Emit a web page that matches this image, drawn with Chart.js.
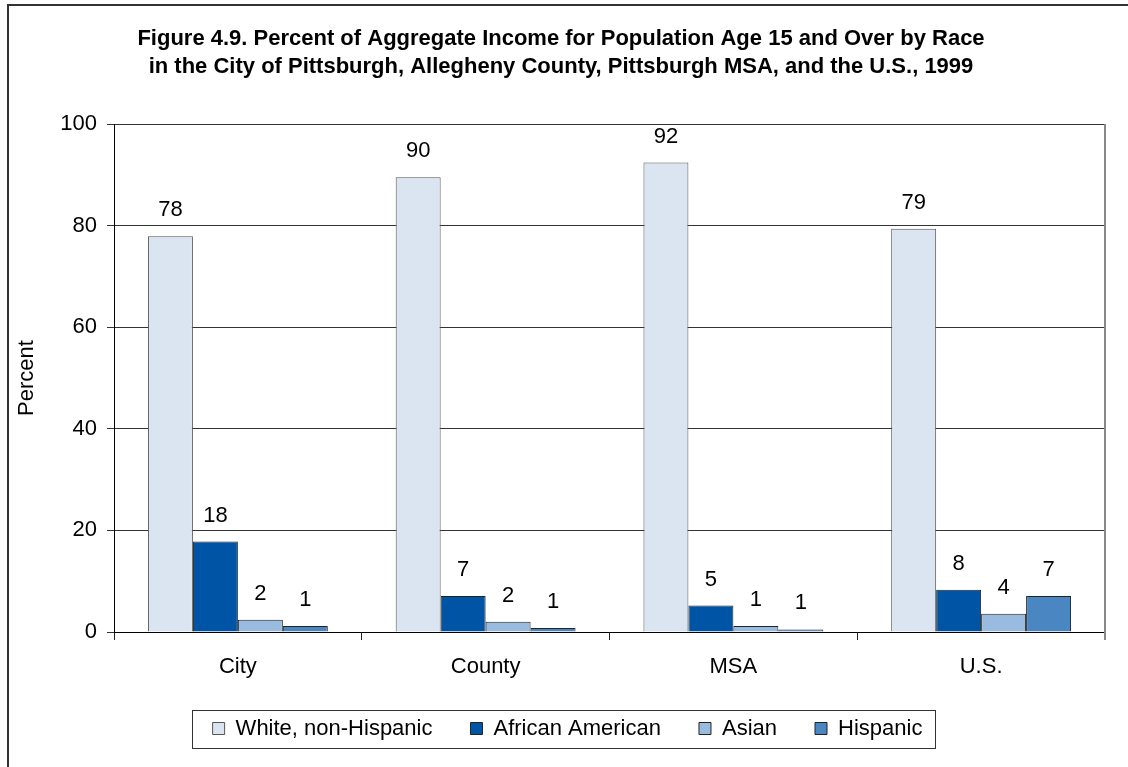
<!DOCTYPE html>
<html>
<head>
<meta charset="utf-8">
<script src="https://cdn.jsdelivr.net/npm/chart.js@4.4.1/dist/chart.umd.min.js"></script>
<style>
body{margin:0;background:#fff;}
#chartContainer{position:relative;width:1128px;height:767px;}
</style>
</head>
<body>
<div id="chartContainer"><canvas id="myChart" width="1128" height="767"></canvas></div>
<script>
// data (percent)
var categories = ['City', 'County', 'MSA', 'U.S.'];
var seriesNames = ['White, non-Hispanic', 'African American', 'Asian', 'Hispanic'];
var white = [77.9, 89.5, 92.4, 79.4];
var african = [17.8, 7.1, 5.2, 8.3];
var asian = [2.4, 2.0, 1.2, 3.6];
var hispanic = [1.2, 0.8, 0.5, 7.1];
var yTicks = [0, 20, 40, 60, 80, 100];

var FONT = 'Arial, "Liberation Sans", sans-serif';
var colors = ['#dbe5f1', '#0054a5', '#99bbdf', '#4a86c2'];

// outer frame, right plot border, legend box
var decor = {
  id: 'decor',
  afterLayout: function(chart) {
    chart.legend.left += 10; chart.legend.right += 10;
    chart.titleBlock.left += 3.5; chart.titleBlock.right += 3.5;
  },
  beforeDraw: function(chart) {
    var ctx = chart.ctx;
    ctx.save();
    ctx.fillStyle = '#fff';
    ctx.fillRect(0, 0, chart.width, chart.height);
    ctx.strokeStyle = '#333';
    ctx.lineWidth = 2;
    ctx.beginPath();
    ctx.moveTo(8, chart.height); ctx.lineTo(8, 5); ctx.lineTo(chart.width, 5);
    ctx.stroke();
    ctx.restore();
  },
  afterDraw: function(chart) {
    var ctx = chart.ctx, a = chart.chartArea;
    ctx.save();
    ctx.strokeStyle = '#888';
    ctx.lineWidth = 2;
    ctx.beginPath();
    ctx.moveTo(a.right, a.top); ctx.lineTo(a.right, a.bottom + 8);
    ctx.stroke();
    var hb = chart.legend.legendHitBoxes;
    var l = hb[0].left - 21;
    var last = hb[hb.length - 1];
    var r = last.left + last.width + 12;
    ctx.strokeStyle = '#333';
    ctx.lineWidth = 1;
    ctx.strokeRect(Math.round(l) + 0.5, 710.5, Math.round(r - l), 38);
    ctx.restore();
  }
};

// value labels above bars
var valueLabels = {
  id: 'valueLabels',
  afterDatasetsDraw: function(chart) {
    var ctx = chart.ctx;
    ctx.save();
    ctx.font = '22px ' + FONT;
    ctx.fillStyle = '#000';
    ctx.textAlign = 'center';
    ctx.textBaseline = 'alphabetic';
    chart.data.datasets.forEach(function(ds, i) {
      chart.getDatasetMeta(i).data.forEach(function(bar, j) {
        ctx.fillText(String(Math.round(ds.data[j])), bar.x, bar.y - 20);
      });
    });
    ctx.restore();
  }
};

var ctx = document.getElementById('myChart').getContext('2d');
var chart = new Chart(ctx, {
  type: 'bar',
  data: {
    labels: categories,
    datasets: [white, african, asian, hispanic].map(function(d, i) {
      return {
        label: seriesNames[i],
        data: d,
        backgroundColor: colors[i],
        borderColor: i == 0 ? '#555' : '#222',
        borderWidth: 1,
        categoryPercentage: 0.726,
        barPercentage: 1.0
      };
    })
  },
  options: {
    responsive: false,
    animation: false,
    devicePixelRatio: 1,
    layout: { padding: { top: 25, left: 10, right: 23, bottom: 17.5 } },
    plugins: {
      title: {
        display: true,
        text: ['Figure 4.9. Percent of Aggregate Income for Population Age 15 and Over by Race',
               'in the City of Pittsburgh, Allegheny County, Pittsburgh MSA, and the U.S., 1999'],
        color: '#000',
        font: { family: FONT, size: 22, weight: 'bold', lineHeight: 28 / 22 },
        padding: { top: 0, bottom: 43 }
      },
      legend: {
        position: 'bottom',
        labels: {
          color: '#000',
          font: { family: FONT, size: 22 },
          boxWidth: 12,
          boxHeight: 12,
          padding: 38
        }
      },
      tooltip: { enabled: false }
    },
    scales: {
      x: {
        afterFit: function(scale) { scale.height = 47.5; },
        grid: { drawOnChartArea: false, drawTicks: true, tickLength: 8, color: '#222' },
        border: { color: '#000', width: 1 },
        ticks: { color: '#000', font: { family: FONT, size: 22 }, padding: 14 }
      },
      y: {
        min: 0,
        max: 100,
        afterBuildTicks: function(scale) {
          scale.ticks = yTicks.map(function(v) { return { value: v }; });
        },
        afterFit: function(scale) { scale.width = 104; },
        grid: { color: '#333', lineWidth: 1, tickLength: 7 },
        border: { color: '#000', width: 1 },
        ticks: { color: '#000', font: { family: FONT, size: 22 }, padding: 10 },
        title: {
          display: true,
          text: 'Percent',
          color: '#000',
          font: { family: FONT, size: 22 },
          padding: { top: 4, bottom: 10 }
        }
      }
    }
  },
  plugins: [decor, valueLabels]
});
</script>
</body>
</html>
